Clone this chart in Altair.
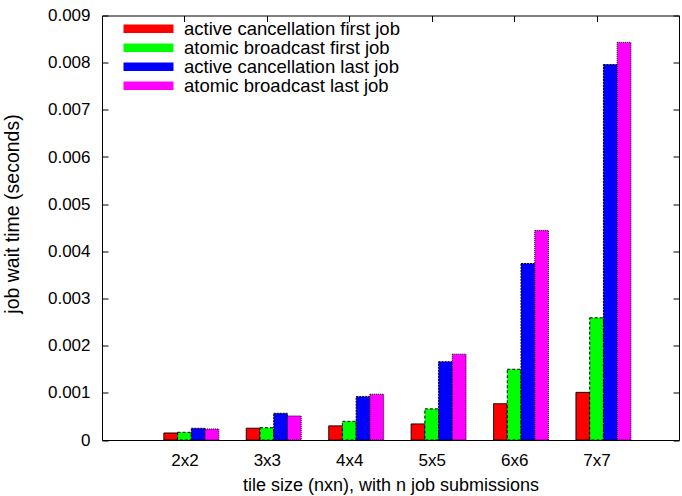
import altair as alt
import pandas as pd

groups = ["2x2", "3x3", "4x4", "5x5", "6x6", "7x7"]
series = [
    "active cancellation first job",
    "atomic broadcast first job",
    "active cancellation last job",
    "atomic broadcast last job",
]
ac_first = [0.000149, 0.000250, 0.000300, 0.000340, 0.000770, 0.001010]
ab_first = [0.000163, 0.000260, 0.000396, 0.000660, 0.001500, 0.002590]
ac_last = [0.000248, 0.000566, 0.000920, 0.001660, 0.003740, 0.007960]
ab_last = [0.000233, 0.000510, 0.000970, 0.001820, 0.004440, 0.008430]
y_ticks = [0, 0.001, 0.002, 0.003, 0.004, 0.005, 0.006, 0.007, 0.008, 0.009]

colors = ["#ff0000", "#00ff00", "#0000ff", "#ff00ff"]
dashes = [[1, 0], [3, 2], [2, 1], [1, 1]]

rows = []
for j, (name, vals) in enumerate(zip(series, [ac_first, ab_first, ac_last, ab_last])):
    for i, (g, v) in enumerate(zip(groups, vals)):
        rows.append({"group": g, "gi": i, "series": name, "si": j, "value": v})
df = pd.DataFrame(rows)

FONT = "Liberation Sans"
W, H = 577, 424.5
label_expr = "[" + ",".join("'%s'" % g for g in groups) + "][datum.value]"

legend = alt.Legend(
    title=None,
    orient="none",
    legendX=21,
    legendY=4,
    symbolType="M-1,-0.17H1V0.17H-1Z",
    symbolSize=2500,
    symbolStrokeColor="black",
    symbolStrokeWidth=1,
    symbolOpacity=1,
    labelFontSize=18.5,
    labelFont=FONT,
    labelColor="black",
    labelOffset=10,
    labelLimit=0,
    clipHeight=18.3,
    rowPadding=0,
    padding=0,
)

chart = (
    alt.Chart(df)
    .transform_calculate(
        x0="datum.gi - 0.25 + datum.si / 6",
        x1="datum.gi - 0.25 + (datum.si + 1) / 6",
    )
    .mark_bar(stroke="black", strokeWidth=1)
    .encode(
        x=alt.X(
            "x0:Q",
            scale=alt.Scale(domain=[-1, 6], nice=False, zero=False),
            axis=alt.Axis(
                values=list(range(len(groups))),
                labelExpr=label_expr,
                title="tile size (nxn), with n job submissions",
                tickSize=0,
                ticks=False,
                domain=False,
                grid=True,
                gridDash=[6, H - 12, 6],
                gridColor="black",
                gridOpacity=1,
                gridWidth=1,
                labelBaseline="alphabetic",
                labelPadding=25,
                titleBaseline="alphabetic",
                titleY=50,
                titleFontSize=18,
            ),
        ),
        x2="x1:Q",
        y=alt.Y(
            "value:Q",
            scale=alt.Scale(domain=[0, 0.009], nice=False),
            axis=alt.Axis(
                values=y_ticks,
                format=".3~f",
                title="job wait time (seconds)",
                tickSize=0,
                ticks=False,
                domain=False,
                grid=True,
                gridDash=[6, W - 12, 6],
                gridColor="black",
                gridOpacity=1,
                gridWidth=1,
                labelPadding=12,
                titleX=-90,
                titleY=198,
                titleAlign="center",
                titleBaseline="middle",
                titleFontSize=19.5,
            ),
        ),
        y2=alt.datum(0),
        fill=alt.Fill("series:N", scale=alt.Scale(domain=series, range=colors), legend=legend),
        strokeDash=alt.StrokeDash("series:N", scale=alt.Scale(domain=series, range=dashes), legend=legend),
    )
    .properties(
        width=W,
        height=H,
        autosize=alt.AutoSizeParams(type="none"),
        padding={"left": 102, "top": 15.5, "right": 3, "bottom": 56},
        background="white",
    )
    .configure_view(stroke="black", strokeWidth=1)
    .configure_axis(
        labelFont=FONT,
        titleFont=FONT,
        labelFontSize=17,
        titleFontSize=17,
        labelColor="black",
        titleColor="black",
        titleFontWeight="normal",
    )
)

chart.save("out.html", embed_options={"renderer": "svg", "actions": False})
